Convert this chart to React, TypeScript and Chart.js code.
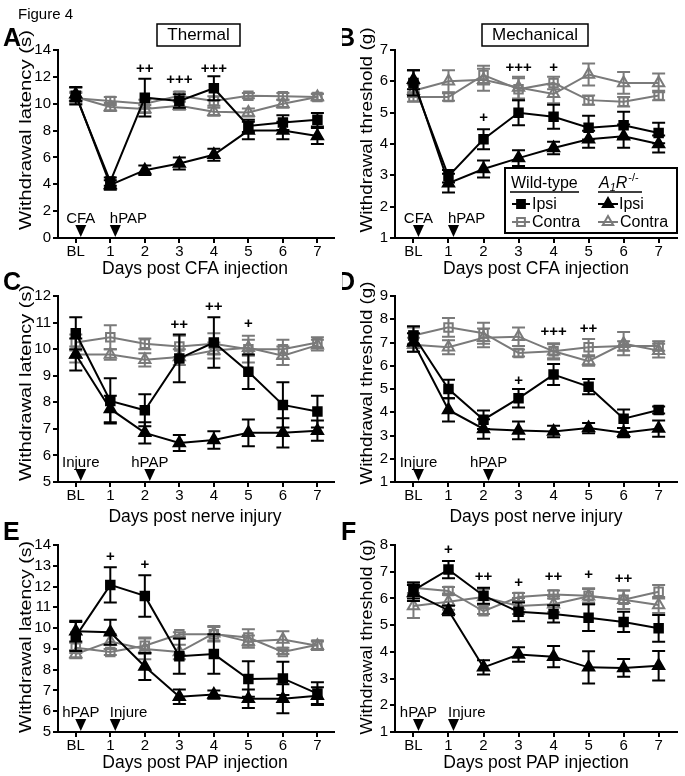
import React, { useEffect, useRef } from "react";
import { Chart, registerables } from "chart.js";
Chart.register(...registerables);

const FONT = "'Liberation Sans', Arial, Helvetica, sans-serif";
const GRAY = "#7a7a7a";
Chart.defaults.font.family = FONT;

// ---------- shared categories ----------
const days = [0, 1, 2, 3, 4, 5, 6, 7];
const dayLabels = ["BL", "1", "2", "3", "4", "5", "6", "7"];

// ---------- Panel A: thermal, CFA ----------
const aTicks = [0, 2, 4, 6, 8, 10, 12, 14];
const aWtIpsi = [10.6, 4.2, 10.45, 10.2, 11.15, 8.35, 8.6, 8.8];
const aWtIpsiSem = [0.65, 0.3, 1.4, 0.5, 0.9, 0.45, 0.55, 0.5];
const aKoIpsi = [10.7, 3.95, 5.05, 5.55, 6.2, 8.0, 8.0, 7.6];
const aKoIpsiSem = [0.5, 0.35, 0.35, 0.45, 0.45, 0.65, 0.65, 0.6];
const aWtContra = [10.4, 10.2, 10.0, 10.6, 10.2, 10.6, 10.55, 10.5];
const aWtContraSem = [0.4, 0.3, 0.3, 0.3, 0.35, 0.2, 0.25, 0.25];
const aKoContra = [10.5, 9.75, 9.6, 9.85, 9.4, 9.35, 10.0, 10.5];
const aKoContraSem = [0.4, 0.3, 0.3, 0.3, 0.3, 0.3, 0.3, 0.25];
const aSigX = [2, 3, 4];
const aSigY = [12.6, 11.8, 12.6];
const aSigText = ["++", "+++", "+++"];
const aEventX = [0, 1];
const aEventText = ["CFA", "hPAP"];

// ---------- Panel B: mechanical, CFA ----------
const bTicks = [1, 2, 3, 4, 5, 6, 7];
const bWtIpsi = [5.95, 2.97, 4.15, 5.0, 4.87, 4.52, 4.6, 4.35];
const bWtIpsiSem = [0.4, 0.2, 0.32, 0.4, 0.38, 0.38, 0.43, 0.33];
const bKoIpsi = [6.05, 2.75, 3.2, 3.55, 3.87, 4.15, 4.25, 4.0];
const bKoIpsiSem = [0.3, 0.3, 0.27, 0.25, 0.2, 0.27, 0.37, 0.27];
const bWtContra = [5.5, 5.5, 6.2, 5.75, 5.95, 5.4, 5.35, 5.55];
const bWtContraSem = [0.15, 0.12, 0.3, 0.35, 0.2, 0.15, 0.15, 0.15];
const bKoContra = [5.7, 6.0, 6.05, 5.8, 5.6, 6.22, 5.95, 5.95];
const bKoContraSem = [0.2, 0.35, 0.35, 0.35, 0.3, 0.35, 0.35, 0.3];
const bSigX = [2, 3, 4];
const bSigY = [4.83, 6.42, 6.42];
const bSigText = ["+", "+++", "+"];
const bEventX = [0, 1];
const bEventText = ["CFA", "hPAP"];

// ---------- Panel C: thermal, nerve injury ----------
const cTicks = [5, 6, 7, 8, 9, 10, 11, 12];
const cWtIpsi = [10.6, 8.05, 7.7, 9.65, 10.25, 9.15, 7.9, 7.65];
const cWtIpsiSem = [0.6, 0.85, 0.6, 0.9, 0.95, 0.65, 0.85, 0.6];
const cKoIpsi = [9.8, 7.75, 6.85, 6.47, 6.58, 6.85, 6.85, 6.93];
const cKoIpsiSem = [0.6, 0.5, 0.4, 0.3, 0.33, 0.5, 0.55, 0.38];
const cWtContra = [10.25, 10.45, 10.2, 10.1, 10.2, 10.0, 10.0, 10.25];
const cWtContraSem = [0.3, 0.45, 0.2, 0.4, 0.4, 0.5, 0.35, 0.2];
const cKoContra = [9.8, 9.8, 9.6, 9.7, 9.95, 10.05, 9.75, 10.15];
const cKoContraSem = [0.3, 0.2, 0.25, 0.3, 0.3, 0.3, 0.35, 0.2];
const cSigX = [3, 4, 5];
const cSigY = [10.9, 11.6, 10.95];
const cSigText = ["++", "++", "+"];
const cEventX = [0, 2];
const cEventText = ["Injure", "hPAP"];

// ---------- Panel D: mechanical, nerve injury ----------
const dTicks = [1, 2, 3, 4, 5, 6, 7, 8, 9];
const dWtIpsi = [7.3, 5.0, 3.68, 4.6, 5.62, 5.1, 3.72, 4.1];
const dWtIpsiSem = [0.4, 0.4, 0.4, 0.4, 0.45, 0.33, 0.4, 0.15];
const dKoIpsi = [7.0, 4.1, 3.28, 3.22, 3.17, 3.32, 3.12, 3.3];
const dKoIpsiSem = [0.4, 0.5, 0.42, 0.38, 0.25, 0.22, 0.2, 0.35];
const dWtContra = [7.3, 7.65, 7.4, 6.55, 6.62, 6.8, 6.85, 6.85];
const dWtContraSem = [0.35, 0.4, 0.45, 0.15, 0.3, 0.35, 0.2, 0.2];
const dKoContra = [6.9, 6.8, 7.2, 7.25, 6.62, 6.2, 6.95, 6.65];
const dKoContraSem = [0.3, 0.3, 0.4, 0.4, 0.35, 0.2, 0.5, 0.3];
const dSigX = [3, 4, 5];
const dSigY = [5.34, 7.47, 7.58];
const dSigText = ["+", "+++", "++"];
const dEventX = [0, 2];
const dEventText = ["Injure", "hPAP"];

// ---------- Panel E: thermal, PAP pre-treatment ----------
const eTicks = [5, 6, 7, 8, 9, 10, 11, 12, 13, 14];
const eWtIpsi = [9.6, 12.08, 11.55, 8.65, 8.75, 7.55, 7.58, 6.85];
const eWtIpsiSem = [0.7, 0.85, 1.0, 0.85, 0.95, 0.85, 0.8, 0.55];
const eKoIpsi = [9.85, 9.8, 8.15, 6.7, 6.8, 6.6, 6.6, 6.75];
const eKoIpsiSem = [0.5, 0.6, 0.65, 0.35, 0.2, 0.45, 0.7, 0.4];
const eWtContra = [9.05, 8.85, 9.15, 9.7, 9.7, 9.55, 8.85, 9.2];
const eWtContraSem = [0.25, 0.15, 0.4, 0.1, 0.35, 0.4, 0.1, 0.2];
const eKoContra = [8.75, 9.35, 9.0, 8.85, 9.75, 9.35, 9.45, 9.15];
const eKoContraSem = [0.2, 0.35, 0.5, 0.35, 0.35, 0.3, 0.4, 0.2];
const eSigX = [1, 2];
const eSigY = [13.44, 13.04];
const eSigText = ["+", "+"];
const eEventX = [0, 1];
const eEventText = ["hPAP", "Injure"];

// ---------- Panel F: mechanical, PAP pre-treatment ----------
const fTicks = [1, 2, 3, 4, 5, 6, 7, 8];
const fWtIpsi = [6.3, 7.08, 6.1, 5.5, 5.42, 5.28, 5.12, 4.88];
const fWtIpsiSem = [0.3, 0.32, 0.3, 0.35, 0.32, 0.5, 0.38, 0.5];
const fKoIpsi = [6.2, 5.55, 3.42, 3.9, 3.82, 3.42, 3.4, 3.48];
const fKoIpsiSem = [0.3, 0.18, 0.27, 0.27, 0.4, 0.6, 0.33, 0.55];
const fWtContra = [6.4, 6.28, 5.52, 6.05, 6.15, 6.1, 5.95, 6.25];
const fWtContraSem = [0.2, 0.15, 0.1, 0.15, 0.15, 0.25, 0.35, 0.25];
const fKoContra = [5.72, 5.88, 6.05, 5.72, 5.78, 6.08, 5.95, 5.75];
const fKoContraSem = [0.45, 0.3, 0.3, 0.3, 0.3, 0.3, 0.35, 0.3];
const fSigX = [1, 2, 3, 4, 5, 6];
const fSigY = [7.81, 6.81, 6.57, 6.81, 6.88, 6.75];
const fSigText = ["+", "++", "+", "++", "+", "++"];
const fEventX = [0, 1];
const fEventText = ["hPAP", "Injure"];

// ---------- styling / layout ----------
type Series = { mean: number[]; sem: number[]; color: string; style: string; fill: string; radius: number };

function series(wi: number[], wis: number[], ki: number[], kis: number[], wc: number[], wcs: number[], kc: number[], kcs: number[]): Series[] {
  return [
    { mean: wi, sem: wis, color: "#000", style: "rect", fill: "#000", radius: 6 },
    { mean: ki, sem: kis, color: "#000", style: "triangle", fill: "#000", radius: 6.5 },
    { mean: wc, sem: wcs, color: GRAY, style: "rect", fill: "rgba(255,255,255,0)", radius: 6 },
    { mean: kc, sem: kcs, color: GRAY, style: "triangle", fill: "rgba(255,255,255,0)", radius: 6.5 },
  ];
}

function marks(xs: number[], ys: number[], ts: string[]) {
  return xs.map((x, i) => ({ x, y: ys[i], t: ts[i] }));
}
function events(xs: number[], ts: string[], aligns: string[]) {
  return xs.map((x, i) => ({ x, t: ts[i], align: aligns[i] }));
}

const LEFT = { left: 0, width: 342, aLeft: 58, aRight: 337, xMin: -0.515, xMax: 7.466, yTitleX: 26, xTitleX: 195, letterX: 3 };
const RIGHT = { left: 342, width: 343, aLeft: 395, aRight: 677, xMin: -0.527, xMax: 7.51, yTitleX: 367, xTitleX: 536, letterX: 337 };
const ROW1 = { top: 0, height: 282, aTop: 50, aBottom: 238, yTitleY: 130, xTitleY: 274, letterY: 46 };
const ROW2 = { top: 250, height: 280, aTop: 296, aBottom: 482, yTitleY: 383, xTitleY: 522, letterY: 290 };
const ROW3 = { top: 505, height: 271, aTop: 545, aBottom: 732, yTitleY: 637, xTitleY: 768, letterY: 540 };

const LAT = "Withdrawal latency (s)";
const THR = "Withdrawal threshold (g)";

function drawMarker(ctx: CanvasRenderingContext2D, style: string, x: number, y: number, r: number, fill: string, stroke: string) {
  ctx.save();
  ctx.lineWidth = 2;
  ctx.strokeStyle = stroke;
  ctx.fillStyle = fill;
  ctx.beginPath();
  if (style === "rect") {
    const s = r * Math.SQRT1_2;
    ctx.rect(x - s, y - s, 2 * s, 2 * s);
  } else {
    ctx.moveTo(x, y - r);
    ctx.lineTo(x + Math.sin((2 * Math.PI) / 3) * r, y + r / 2);
    ctx.lineTo(x - Math.sin((2 * Math.PI) / 3) * r, y + r / 2);
    ctx.closePath();
  }
  ctx.fill();
  ctx.stroke();
  ctx.restore();
}

function drawFigureHeader(ctx: CanvasRenderingContext2D, X: (v: number) => number, Y: (v: number) => number) {
  ctx.fillStyle = "#000";
  ctx.font = `15px ${FONT}`;
  ctx.textAlign = "left";
  ctx.textBaseline = "alphabetic";
  ctx.fillText("Figure 4", X(18), Y(19));
  ctx.lineWidth = 1.5;
  ctx.strokeStyle = "#000";
  ctx.strokeRect(X(157), Y(24), 83, 22);
  ctx.font = `17px ${FONT}`;
  ctx.textAlign = "center";
  ctx.textBaseline = "middle";
  ctx.fillText("Thermal", X(198.5), Y(35.5));
}

function drawMechHeaderAndLegend(ctx: CanvasRenderingContext2D, X: (v: number) => number, Y: (v: number) => number) {
  ctx.fillStyle = "#000";
  ctx.strokeStyle = "#000";
  ctx.lineWidth = 1.5;
  ctx.strokeRect(X(482), Y(24), 106, 22);
  ctx.font = `17px ${FONT}`;
  ctx.textAlign = "center";
  ctx.textBaseline = "middle";
  ctx.fillText("Mechanical", X(535), Y(35.5));

  // legend box
  ctx.fillStyle = "#fff";
  ctx.fillRect(X(505), Y(168), 172, 65);
  ctx.lineWidth = 2;
  ctx.strokeRect(X(505), Y(168), 172, 65);
  ctx.fillStyle = "#000";
  ctx.textAlign = "left";
  ctx.textBaseline = "alphabetic";
  ctx.font = `16px ${FONT}`;
  ctx.fillText("Wild-type", X(511), Y(188));
  ctx.lineWidth = 1.3;
  ctx.beginPath();
  ctx.moveTo(X(510), Y(192));
  ctx.lineTo(X(579), Y(192));
  ctx.moveTo(X(598), Y(192));
  ctx.lineTo(X(642), Y(192));
  ctx.stroke();
  // A1R-/-
  let cx = X(599);
  ctx.font = `italic 16px ${FONT}`;
  ctx.fillText("A", cx, Y(188));
  cx += ctx.measureText("A").width;
  ctx.font = `italic 11px ${FONT}`;
  ctx.fillText("1", cx, Y(191));
  cx += ctx.measureText("1").width;
  ctx.font = `italic 16px ${FONT}`;
  ctx.fillText("R", cx, Y(188));
  cx += ctx.measureText("R").width + 1;
  ctx.font = `11px ${FONT}`;
  ctx.fillText("-/-", cx, Y(181));

  const rows = [
    { x0: 512, x1: 530, y: 204, color: "#000", style: "rect", fill: "#000", text: "Ipsi", tx: 532 },
    { x0: 512, x1: 530, y: 222, color: GRAY, style: "rect", fill: "rgba(255,255,255,0)", text: "Contra", tx: 532 },
    { x0: 598, x1: 618, y: 204, color: "#000", style: "triangle", fill: "#000", text: "Ipsi", tx: 619 },
    { x0: 598, x1: 618, y: 222, color: GRAY, style: "triangle", fill: "rgba(255,255,255,0)", text: "Contra", tx: 620 },
  ];
  rows.forEach((r) => {
    ctx.strokeStyle = r.color;
    ctx.lineWidth = 2;
    ctx.beginPath();
    ctx.moveTo(X(r.x0), Y(r.y));
    ctx.lineTo(X(r.x1), Y(r.y));
    ctx.stroke();
    drawMarker(ctx, r.style, X((r.x0 + r.x1) / 2), Y(r.y), r.style === "rect" ? 5.5 : 6, r.fill, r.color);
    ctx.fillStyle = "#000";
    ctx.font = `16px ${FONT}`;
    ctx.textAlign = "left";
    ctx.textBaseline = "middle";
    ctx.fillText(r.text, X(r.tx), Y(r.y + 0.5));
  });
}

const panels = [
  {
    letter: "A", col: LEFT, row: ROW1, yMin: 0, yMax: 14, yTicks: aTicks, yTitle: LAT, yLen: 200, xTitle: "Days post CFA injection",
    series: series(aWtIpsi, aWtIpsiSem, aKoIpsi, aKoIpsiSem, aWtContra, aWtContraSem, aKoContra, aKoContraSem),
    sig: marks(aSigX, aSigY, aSigText), events: events(aEventX, aEventText, ["center", "left"]), extra: drawFigureHeader,
  },
  {
    letter: "B", col: RIGHT, row: ROW1, yMin: 1, yMax: 7, yTicks: bTicks, yTitle: THR, yLen: 205, xTitle: "Days post CFA injection",
    series: series(bWtIpsi, bWtIpsiSem, bKoIpsi, bKoIpsiSem, bWtContra, bWtContraSem, bKoContra, bKoContraSem),
    sig: marks(bSigX, bSigY, bSigText), events: events(bEventX, bEventText, ["center", "left"]), extra: drawMechHeaderAndLegend,
  },
  {
    letter: "C", col: LEFT, row: ROW2, yMin: 5, yMax: 12, yTicks: cTicks, yTitle: LAT, yLen: 196, xTitle: "Days post nerve injury",
    series: series(cWtIpsi, cWtIpsiSem, cKoIpsi, cKoIpsiSem, cWtContra, cWtContraSem, cKoContra, cKoContraSem),
    sig: marks(cSigX, cSigY, cSigText), events: events(cEventX, cEventText, ["center", "center"]), extra: null,
  },
  {
    letter: "D", col: RIGHT, row: ROW2, yMin: 1, yMax: 9, yTicks: dTicks, yTitle: THR, yLen: 203, xTitle: "Days post nerve injury",
    series: series(dWtIpsi, dWtIpsiSem, dKoIpsi, dKoIpsiSem, dWtContra, dWtContraSem, dKoContra, dKoContraSem),
    sig: marks(dSigX, dSigY, dSigText), events: events(dEventX, dEventText, ["center", "center"]), extra: null,
  },
  {
    letter: "E", col: LEFT, row: ROW3, yMin: 5, yMax: 14, yTicks: eTicks, yTitle: LAT, yLen: 192, xTitle: "Days post PAP injection",
    series: series(eWtIpsi, eWtIpsiSem, eKoIpsi, eKoIpsiSem, eWtContra, eWtContraSem, eKoContra, eKoContraSem),
    sig: marks(eSigX, eSigY, eSigText), events: events(eEventX, eEventText, ["center", "left"]), extra: null,
  },
  {
    letter: "F", col: { ...RIGHT, letterX: 341 }, row: ROW3, yMin: 1, yMax: 8, yTicks: fTicks, yTitle: THR, yLen: 195, xTitle: "Days post PAP injection",
    series: series(fWtIpsi, fWtIpsiSem, fKoIpsi, fKoIpsiSem, fWtContra, fWtContraSem, fKoContra, fKoContraSem),
    sig: marks(fSigX, fSigY, fSigText), events: events(fEventX, fEventText, ["center", "left"]), extra: null,
  },
];

type Panel = (typeof panels)[number];

function makeConfig(p: Panel): any {
  const { col, row } = p;
  const yw = col.aLeft - col.left;
  const xh = row.top + row.height - row.aBottom;
  const X = (v: number) => v - col.left;
  const Y = (v: number) => v - row.top;
  const tickFont = { family: FONT, size: 15 };

  const plugin = {
    id: "extras" + p.letter,
    beforeDatasetDraw(chart: any, args: any) {
      const s = p.series[args.index];
      const ctx = chart.ctx;
      const xs = chart.scales.x;
      const ys = chart.scales.y;
      ctx.save();
      ctx.strokeStyle = s.color;
      ctx.lineWidth = 2;
      ctx.beginPath();
      s.mean.forEach((m, i) => {
        const x = xs.getPixelForValue(days[i]);
        const y1 = ys.getPixelForValue(m - s.sem[i]);
        const y2 = ys.getPixelForValue(m + s.sem[i]);
        ctx.moveTo(x, y1);
        ctx.lineTo(x, y2);
        ctx.moveTo(x - 6.5, y1);
        ctx.lineTo(x + 6.5, y1);
        ctx.moveTo(x - 6.5, y2);
        ctx.lineTo(x + 6.5, y2);
      });
      ctx.stroke();
      ctx.restore();
    },
    afterDraw(chart: any) {
      const ctx: CanvasRenderingContext2D = chart.ctx;
      const xs = chart.scales.x;
      const ys = chart.scales.y;
      ctx.save();
      ctx.fillStyle = "#000";
      // panel letter
      ctx.font = `bold 25px ${FONT}`;
      ctx.textAlign = "left";
      ctx.textBaseline = "alphabetic";
      ctx.fillText(p.letter, X(col.letterX), Y(row.letterY));
      // y title
      ctx.save();
      ctx.font = `17px ${FONT}`;
      const w = ctx.measureText(p.yTitle).width;
      ctx.translate(X(col.yTitleX), Y(row.yTitleY));
      ctx.rotate(-Math.PI / 2);
      ctx.scale(p.yLen / w, 1);
      ctx.textAlign = "center";
      ctx.textBaseline = "middle";
      ctx.fillText(p.yTitle, 0, 0);
      ctx.restore();
      // x title
      ctx.font = `17.5px ${FONT}`;
      ctx.textAlign = "center";
      ctx.textBaseline = "alphabetic";
      ctx.fillText(p.xTitle, X(col.xTitleX), Y(row.xTitleY));
      // significance marks
      ctx.font = `bold 15px ${FONT}`;
      ctx.textAlign = "center";
      ctx.textBaseline = "middle";
      p.sig.forEach((s) => ctx.fillText(s.t, xs.getPixelForValue(s.x), ys.getPixelForValue(s.y)));
      // treatment arrows
      const base = chart.chartArea.bottom - 1;
      p.events.forEach((ev) => {
        const cx = xs.getPixelForValue(ev.x) + 5;
        ctx.beginPath();
        ctx.moveTo(cx - 5.5, base - 12);
        ctx.lineTo(cx + 5.5, base - 12);
        ctx.lineTo(cx, base);
        ctx.closePath();
        ctx.fill();
        ctx.font = `15px ${FONT}`;
        ctx.textBaseline = "alphabetic";
        if (ev.align === "left") {
          ctx.textAlign = "left";
          ctx.fillText(ev.t, cx - 5.5, base - 14);
        } else {
          ctx.textAlign = "center";
          ctx.fillText(ev.t, cx, base - 14);
        }
      });
      if (p.extra) p.extra(ctx, X, Y);
      ctx.restore();
    },
  };

  return {
    type: "line",
    data: {
      datasets: p.series.map((s) => ({
        data: s.mean.map((m, i) => ({ x: days[i], y: m })),
        borderColor: s.color,
        borderWidth: 2,
        pointStyle: s.style,
        pointRadius: s.radius,
        pointBackgroundColor: s.fill,
        pointBorderColor: s.color,
        pointBorderWidth: 2,
        tension: 0,
        fill: false,
        clip: false,
      })),
    },
    options: {
      responsive: false,
      animation: false,
      devicePixelRatio: 1,
      events: [],
      layout: { padding: { left: 0, right: col.left + col.width - col.aRight, top: row.aTop - row.top, bottom: 0 } },
      plugins: { legend: { display: false }, tooltip: { enabled: false } },
      scales: {
        x: {
          type: "linear",
          min: col.xMin,
          max: col.xMax,
          afterBuildTicks: (s: any) => {
            s.ticks = days.map((v) => ({ value: v }));
          },
          afterFit: (s: any) => {
            s.height = xh;
          },
          ticks: {
            callback: (v: any) => {
              const i = days.indexOf(v);
              return i >= 0 ? dayLabels[i] : "";
            },
            font: tickFont,
            color: "#000",
            padding: 0,
            maxRotation: 0,
            autoSkip: false,
          },
          grid: { drawOnChartArea: false, drawTicks: true, tickLength: 5, color: "#000", lineWidth: 2 },
          border: { display: true, color: "#000", width: 2 },
        },
        y: {
          type: "linear",
          min: p.yMin,
          max: p.yMax,
          afterBuildTicks: (s: any) => {
            s.ticks = p.yTicks.map((v) => ({ value: v }));
          },
          afterFit: (s: any) => {
            s.width = yw;
          },
          ticks: { font: tickFont, color: "#000", padding: 2, autoSkip: false },
          grid: { drawOnChartArea: false, drawTicks: true, tickLength: 5, color: "#000", lineWidth: 2 },
          border: { display: true, color: "#000", width: 2 },
        },
      },
    },
    plugins: [plugin],
  };
}

function PanelChart({ p }: { p: Panel }) {
  const ref = useRef<HTMLCanvasElement | null>(null);
  useEffect(() => {
    if (!ref.current) return;
    const chart = new Chart(ref.current, makeConfig(p));
    return () => chart.destroy();
  }, [p]);
  return (
    <canvas
      ref={ref}
      width={p.col.width}
      height={p.row.height}
      style={{ position: "absolute", left: p.col.left, top: p.row.top, width: p.col.width, height: p.row.height }}
    />
  );
}

export default function App() {
  return (
    <div style={{ position: "absolute", left: 0, top: 0, width: 685, height: 776, background: "#fff", overflow: "hidden" }}>
      {panels.map((p) => (
        <PanelChart key={p.letter} p={p} />
      ))}
    </div>
  );
}
